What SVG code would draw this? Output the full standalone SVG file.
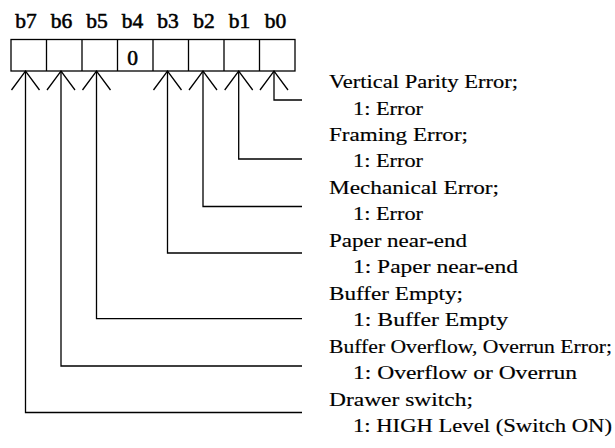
<svg xmlns="http://www.w3.org/2000/svg" width="615" height="448" viewBox="0 0 615 448">
<style>
.ln{fill:none;stroke:#000;stroke-width:1.3}
.bit{font-family:"Liberation Serif",serif;font-size:21.5px;text-anchor:middle;fill:#000;stroke:#000;stroke-width:0.55}
.d{font-family:"Liberation Serif",serif;font-size:18px;fill:#000;stroke:#000;stroke-width:0.15}
</style>
<defs>
<path id="chev" d="M-14,19 L0,0 L14,19" class="ln"/>
</defs>
<rect width="615" height="448" fill="#fff"/>
<g id="register">
<rect x="11" y="39.5" width="284" height="31.5" class="ln"/>
<path class="ln" d="M46.5,39.5V71 M82,39.5V71 M117.5,39.5V71 M153,39.5V71 M188.5,39.5V71 M224,39.5V71 M259.5,39.5V71"/>
<text class="bit" x="132.5" y="65">0</text>
</g>
<g id="bit-labels">
<text class="bit" x="26" y="28">b7</text>
<text class="bit" x="61.5" y="28">b6</text>
<text class="bit" x="97" y="28">b5</text>
<text class="bit" x="132.5" y="28">b4</text>
<text class="bit" x="168" y="28">b3</text>
<text class="bit" x="204" y="28">b2</text>
<text class="bit" x="239.5" y="28">b1</text>
<text class="bit" x="275.5" y="28">b0</text>
</g>
<g id="connectors">
<use href="#chev" x="274" y="71"/>
<use href="#chev" x="238.7" y="71"/>
<use href="#chev" x="203" y="71"/>
<use href="#chev" x="167.5" y="71"/>
<use href="#chev" x="96.5" y="71"/>
<use href="#chev" x="61" y="71"/>
<use href="#chev" x="25.5" y="71"/>
<path class="ln" d="M274,71V100H302"/>
<path class="ln" d="M238.7,71V159H302"/>
<path class="ln" d="M203,71V206.5H302"/>
<path class="ln" d="M167.5,71V253H302"/>
<path class="ln" d="M96.5,71V318.7H302"/>
<path class="ln" d="M61,71V366H302"/>
<path class="ln" d="M25.5,71V412.5H302"/>
</g>
<g id="desc-b0">
<text class="d" x="329" y="88" textLength="189" lengthAdjust="spacingAndGlyphs">Vertical Parity Error;</text>
<text class="d" x="353" y="114.5" textLength="70" lengthAdjust="spacingAndGlyphs">1: Error</text>
</g>
<g id="desc-b1">
<text class="d" x="329" y="140.9" textLength="139" lengthAdjust="spacingAndGlyphs">Framing Error;</text>
<text class="d" x="353" y="167.4" textLength="70" lengthAdjust="spacingAndGlyphs">1: Error</text>
</g>
<g id="desc-b2">
<text class="d" x="329" y="193.8" textLength="170" lengthAdjust="spacingAndGlyphs">Mechanical Error;</text>
<text class="d" x="353" y="220.3" textLength="70" lengthAdjust="spacingAndGlyphs">1: Error</text>
</g>
<g id="desc-b3">
<text class="d" x="329" y="246.8" textLength="138" lengthAdjust="spacingAndGlyphs">Paper near-end</text>
<text class="d" x="353" y="273.2" textLength="165" lengthAdjust="spacingAndGlyphs">1: Paper near-end</text>
</g>
<g id="desc-b5">
<text class="d" x="329" y="299.7" textLength="134" lengthAdjust="spacingAndGlyphs">Buffer Empty;</text>
<text class="d" x="353" y="326.2" textLength="155" lengthAdjust="spacingAndGlyphs">1: Buffer Empty</text>
</g>
<g id="desc-b6">
<text class="d" x="329" y="352.6" textLength="283" lengthAdjust="spacingAndGlyphs">Buffer Overflow, Overrun Error;</text>
<text class="d" x="353" y="379.1" textLength="224" lengthAdjust="spacingAndGlyphs">1: Overflow or Overrun</text>
</g>
<g id="desc-b7">
<text class="d" x="329" y="405.5" textLength="144" lengthAdjust="spacingAndGlyphs">Drawer switch;</text>
<text class="d" x="353" y="432" textLength="259" lengthAdjust="spacingAndGlyphs">1: HIGH Level (Switch ON)</text>
</g>
</svg>
